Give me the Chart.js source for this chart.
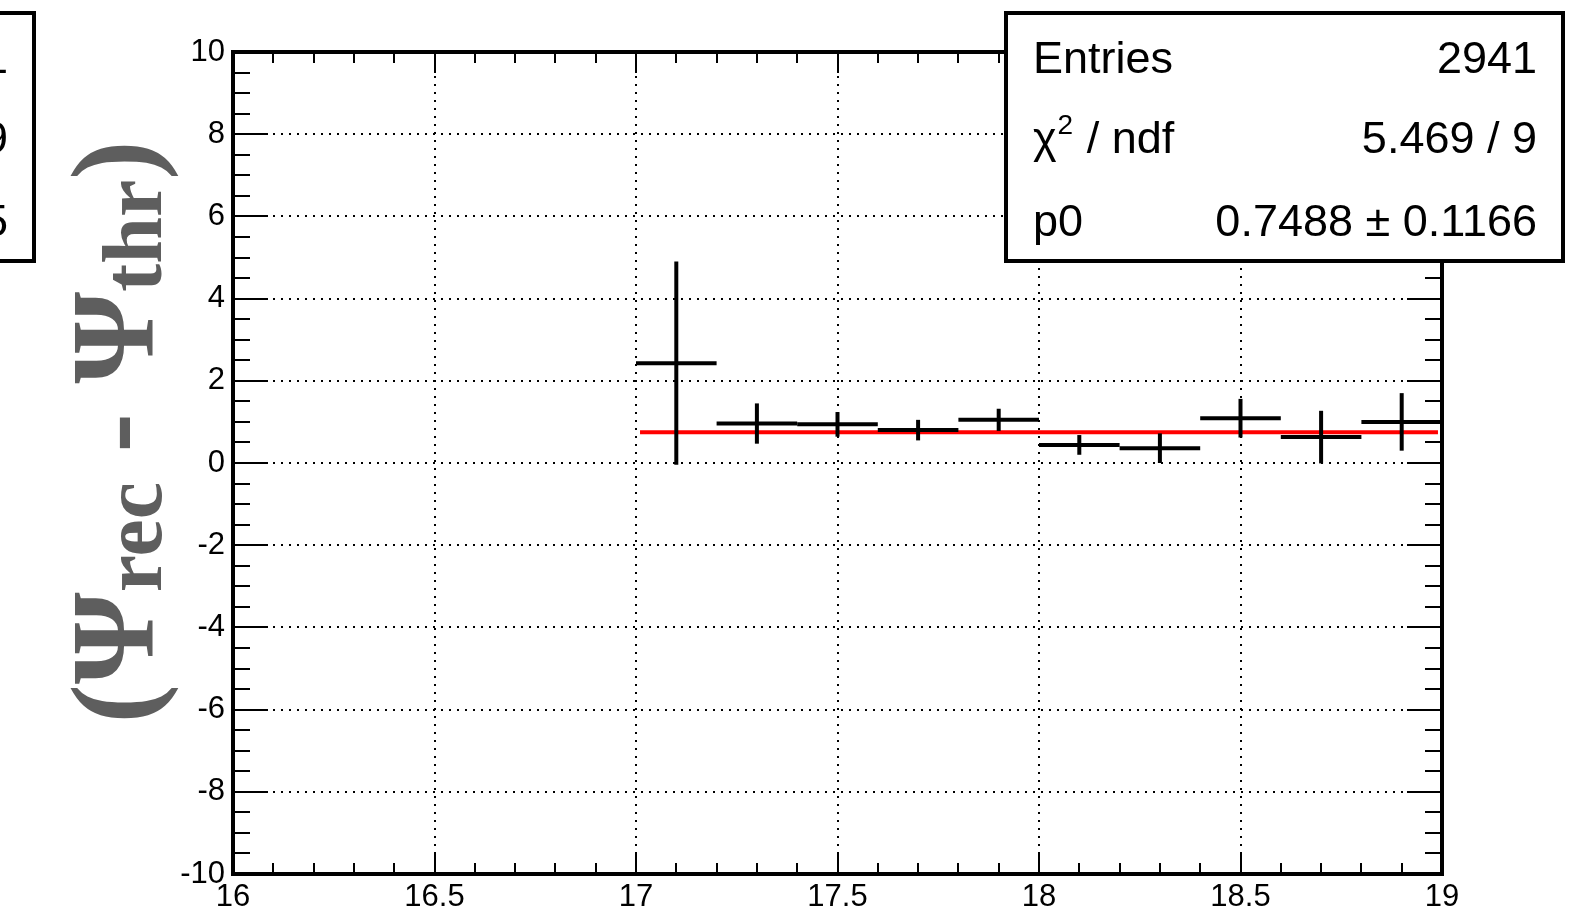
<!DOCTYPE html>
<html>
<head>
<meta charset="utf-8">
<script src="https://cdn.jsdelivr.net/npm/chart.js@4.4.1/dist/chart.umd.min.js"></script>
<style>
  html, body { margin: 0; padding: 0; background: #fff; }
  canvas { display: block; }
</style>
</head>
<body>
<canvas id="fit-chart" width="1589" height="914"></canvas>
<script>
// --- veriler ---
const binCenters = [17.1, 17.3, 17.5, 17.7, 17.9, 18.1, 18.3, 18.5, 18.7, 18.9];
const binValues = [2.43, 0.96, 0.94, 0.80, 1.05, 0.44, 0.36, 1.09, 0.63, 1.00];
const binErrors = [2.47, 0.49, 0.30, 0.25, 0.27, 0.24, 0.36, 0.47, 0.64, 0.70];
const binHalfWidth = 0.1;

const fitValue = 0.7488;
const fitRange = [17.01, 18.99];

const xTicks = [16, 16.5, 17, 17.5, 18, 18.5, 19];
const yTicks = [-10, -8, -6, -4, -2, 0, 2, 4, 6, 8, 10];
const xMinorStep = 0.1;
const yMinorStep = 0.5;

const statsRows = [
  ['Entries', '2941'],
  ['χ2 / ndf', '5.469 / 9'],
  ['p0', '0.7488 ± 0.1166'],
];
// soldaki kesik kutunun görünen son karakterleri
const clippedValues = ['1', '9', '5'];

const SANS = '"Liberation Sans", Arial, Helvetica, sans-serif';
const SERIF = '"Liberation Serif", "DejaVu Serif", serif';

// her bin için yatay + dikey hata çubuğu
function buildDatasets() {
  const sets = [];
  binCenters.forEach((x, i) => {
    const y = binValues[i];
    const e = binErrors[i];
    sets.push({
      data: [{ x: x - binHalfWidth, y }, { x: x + binHalfWidth, y }],
      borderColor: '#000', borderWidth: 4, pointRadius: 0, showLine: true, order: 0,
    });
    sets.push({
      data: [{ x, y: y - e }, { x, y: y + e }],
      borderColor: '#000', borderWidth: 4, pointRadius: 0, showLine: true, order: 0,
    });
  });
  // fit çizgisi (altta kalsın)
  sets.push({
    data: [{ x: fitRange[0], y: fitValue }, { x: fitRange[1], y: fitValue }],
    borderColor: '#ff0000', borderWidth: 4, pointRadius: 0, showLine: true, order: 1,
  });
  return sets;
}

// çerçeve + içe dönük tikler (ROOT tarzı)
const framePlugin = {
  id: 'frame',
  afterDatasetsDraw(chart) {
    const { ctx, chartArea: a, scales } = chart;
    const xs = scales.x, ys = scales.y;
    ctx.save();
    ctx.strokeStyle = '#000';
    ctx.lineWidth = 2;
    ctx.beginPath();
    // x tikleri
    const nx = Math.round((xs.max - xs.min) / xMinorStep);
    for (let k = 0; k <= nx; k++) {
      const v = xs.min + k * xMinorStep;
      const px = Math.round(xs.getPixelForValue(v));
      const major = xTicks.some((t) => Math.abs(t - v) < 1e-6);
      const len = major ? 21 : 11;
      ctx.moveTo(px, a.bottom); ctx.lineTo(px, a.bottom - len);
      ctx.moveTo(px, a.top); ctx.lineTo(px, a.top + len);
    }
    // y tikleri
    const ny = Math.round((ys.max - ys.min) / yMinorStep);
    for (let k = 0; k <= ny; k++) {
      const v = ys.min + k * yMinorStep;
      const py = Math.round(ys.getPixelForValue(v));
      const major = yTicks.some((t) => Math.abs(t - v) < 1e-6);
      const len = major ? 35 : 17;
      ctx.moveTo(a.left, py); ctx.lineTo(a.left + len, py);
      ctx.moveTo(a.right, py); ctx.lineTo(a.right - len, py);
    }
    ctx.stroke();
    ctx.lineWidth = 4;
    ctx.strokeRect(a.left, a.top, a.right - a.left, a.bottom - a.top);
    ctx.restore();
  },
};

// y ekseni başlığı: (Ψ_rec - Ψ_thr)
const yTitlePlugin = {
  id: 'yTitle',
  afterDraw(chart) {
    const { ctx } = chart;
    const mainFont = `bold 118px ${SERIF}`;
    const subFont = `bold 84px ${SERIF}`;
    const parts = [
      { t: '(Ψ', f: mainFont, dy: 0 },
      { t: 'rec', f: subFont, dy: 8 },
      { t: ' - Ψ', f: mainFont, dy: 0 },
      { t: 'thr', f: subFont, dy: 8 },
      { t: ')', f: mainFont, dy: 0 },
    ];
    ctx.save();
    ctx.fillStyle = '#5e5e5e';
    ctx.textBaseline = 'alphabetic';
    let total = 0;
    parts.forEach((p) => { ctx.font = p.f; p.w = ctx.measureText(p.t).width; total += p.w; });
    ctx.translate(153, 432);
    ctx.rotate(-Math.PI / 2);
    let x = -total / 2;
    parts.forEach((p) => {
      ctx.font = p.f;
      ctx.fillText(p.t, x, p.dy);
      x += p.w;
    });
    ctx.restore();
  },
};

function drawStatsBox(ctx, left, right, rows, withLabels) {
  const top = 13, bottom = 261;
  ctx.fillStyle = '#fff';
  ctx.fillRect(left, top, right - left, bottom - top);
  ctx.strokeStyle = '#000';
  ctx.lineWidth = 4;
  ctx.strokeRect(left, top, right - left, bottom - top);
  ctx.fillStyle = '#000';
  ctx.textBaseline = 'alphabetic';
  const baselines = [73, 153, 236];
  rows.forEach((row, i) => {
    const yb = baselines[i];
    ctx.font = `45px ${SANS}`;
    if (withLabels) {
      ctx.textAlign = 'left';
      const label = row[0];
      const lx = left + 27;
      if (label.startsWith('χ2')) {
        ctx.fillText('χ', lx, yb);
        const w = ctx.measureText('χ').width;
        ctx.font = `28px ${SANS}`;
        ctx.fillText('2', lx + w + 1, yb - 19);
        const w2 = ctx.measureText('2').width;
        ctx.font = `45px ${SANS}`;
        ctx.fillText(label.slice(2), lx + w + w2 + 2, yb);
      } else {
        ctx.fillText(label, lx, yb);
      }
    }
    ctx.textAlign = 'right';
    ctx.fillText(withLabels ? row[1] : row, right - 26, yb);
  });
}

const statsPlugin = {
  id: 'stats',
  afterDraw(chart) {
    const { ctx } = chart;
    ctx.save();
    drawStatsBox(ctx, 1006, 1563, statsRows, true);
    drawStatsBox(ctx, -20, 34, clippedValues, false);
    ctx.restore();
  },
};

const ctx = document.getElementById('fit-chart').getContext('2d');
new Chart(ctx, {
  type: 'scatter',
  data: { datasets: buildDatasets() },
  options: {
    responsive: false,
    animation: false,
    layout: { padding: { top: 52, right: 147, left: 0, bottom: 0 } },
    plugins: { legend: { display: false }, tooltip: { enabled: false } },
    scales: {
      x: {
        type: 'linear',
        min: xTicks[0],
        max: xTicks[xTicks.length - 1],
        afterBuildTicks: (s) => { s.ticks = xTicks.map((v) => ({ value: v })); },
        afterFit: (s) => { s.height = 40; },
        grid: { color: '#000', lineWidth: 2, drawTicks: false },
        border: { display: false, dash: [2, 6] },
        ticks: {
          autoSkip: false, maxRotation: 0, padding: 5, color: '#000',
          font: { family: SANS, size: 31 },
          callback: (v) => String(v),
        },
      },
      y: {
        type: 'linear',
        min: yTicks[0],
        max: yTicks[yTicks.length - 1],
        afterBuildTicks: (s) => { s.ticks = yTicks.map((v) => ({ value: v })); },
        afterFit: (s) => { s.width = 233; },
        grid: { color: '#000', lineWidth: 2, drawTicks: false },
        border: { display: false, dash: [2, 6] },
        ticks: {
          autoSkip: false, padding: 8, color: '#000',
          font: { family: SANS, size: 31 },
          callback: (v) => String(v),
        },
      },
    },
  },
  plugins: [framePlugin, yTitlePlugin, statsPlugin],
});
</script>
</body>
</html>
